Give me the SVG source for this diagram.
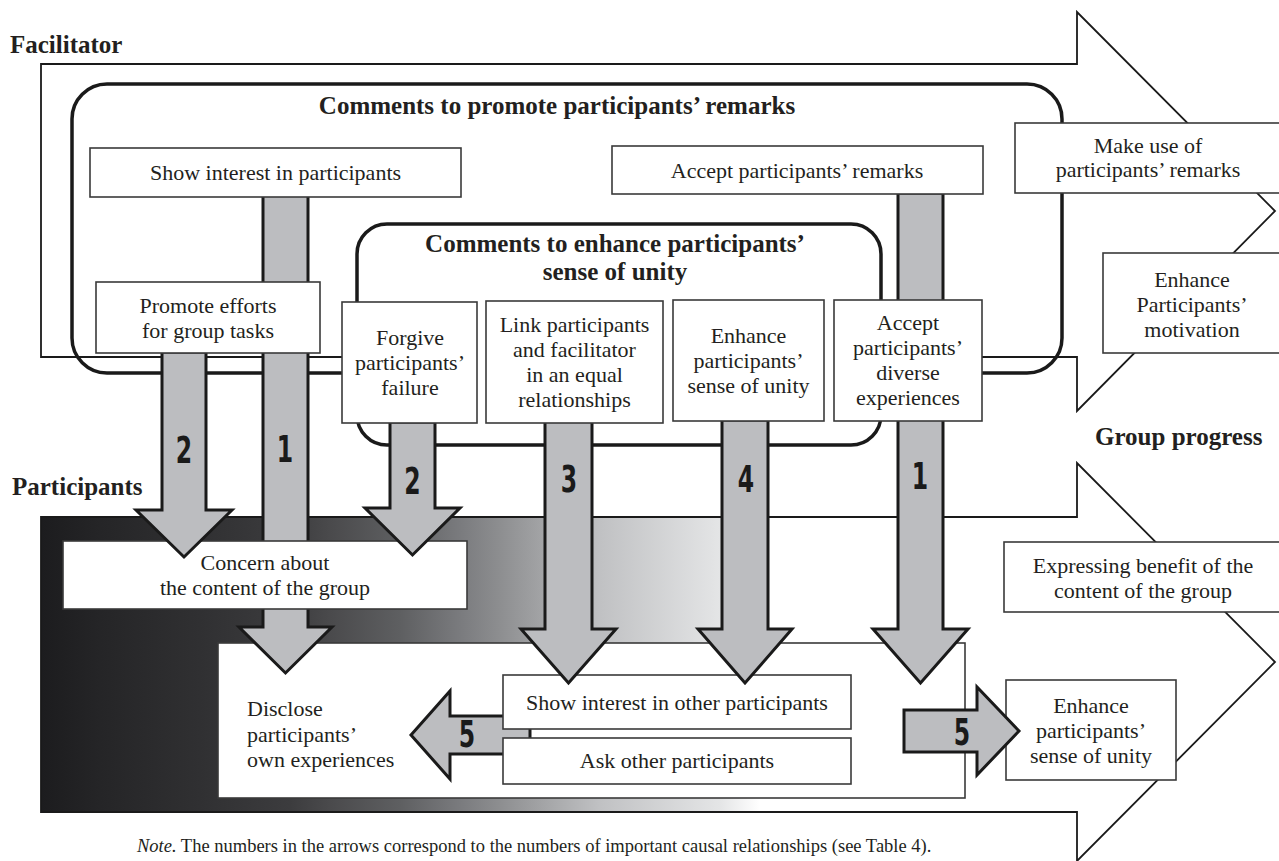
<svg xmlns="http://www.w3.org/2000/svg" width="1279" height="861" viewBox="0 0 1279 861">
<defs>
<linearGradient id="grad" gradientUnits="userSpaceOnUse" x1="41" y1="0" x2="760" y2="0">
<stop offset="0" stop-color="#1c1c1e"/>
<stop offset="0.082" stop-color="#252527"/>
<stop offset="0.221" stop-color="#303032"/>
<stop offset="0.346" stop-color="#3c3c3e"/>
<stop offset="0.402" stop-color="#4a4a4c"/>
<stop offset="0.499" stop-color="#5e5f61"/>
<stop offset="0.583" stop-color="#7a7b7e"/>
<stop offset="0.638" stop-color="#8d8e90"/>
<stop offset="0.777" stop-color="#c0c1c3"/>
<stop offset="0.944" stop-color="#e4e5e6"/>
<stop offset="1" stop-color="#ffffff"/>
</linearGradient>
<style>
.big{fill:#fff;stroke:#1a1a1a;stroke-width:1.8;stroke-linejoin:miter}
.grp{fill:none;stroke:#1a1a1a;stroke-width:3.5}
.box{fill:#fff;stroke:#3a3a3a;stroke-width:1.6}
.arr{fill:#bcbdc0;stroke:#1a1a1a;stroke-width:3;stroke-linejoin:miter}
.t{font-family:"Liberation Serif","Times New Roman",serif;font-size:22px;fill:#231f20;text-anchor:middle}
.tl{font-family:"Liberation Serif","Times New Roman",serif;font-size:22px;fill:#231f20}
.h{font-family:"Liberation Serif","Times New Roman",serif;font-size:25px;font-weight:bold;fill:#231f20}
.hc{font-family:"Liberation Serif","Times New Roman",serif;font-size:25px;font-weight:bold;fill:#231f20;text-anchor:middle}
.num{font-family:"DejaVu Sans","Liberation Sans",sans-serif;font-size:38px;font-weight:bold;fill:#1a1a1a;text-anchor:middle}
.note{font-family:"Liberation Serif","Times New Roman",serif;font-size:18.5px;fill:#231f20}
</style>
</defs>

<g id="facilitator-arrow">
<polygon class="big" points="41,64 1077,64 1077,12 1275,211 1077,411 1077,357 41,357"/>
</g>
<g id="group-progress-arrow">
<polygon class="big" style="fill:url(#grad)" points="41,517 1077,517 1077,463 1275,662 1077,861 1077,812 41,812"/>
</g>

<g id="comments-promote">
<rect class="grp" x="72" y="84" width="990" height="289" rx="35" ry="35"/>
<text class="hc" x="557" y="114">Comments to promote participants’ remarks</text>
</g>
<g id="comments-unity">
<rect class="grp" style="fill:#fff" x="357" y="224" width="524" height="221" rx="30" ry="30"/>
<text class="hc" x="615" y="252">Comments to enhance participants’<tspan x="615" dy="28">sense of unity</tspan></text>
</g>

<g id="disclose">
<rect class="box" x="218" y="643" width="747" height="155"/>
<text class="tl" x="247" y="716">Disclose</text>
<text class="tl" x="247" y="742">participants’</text>
<text class="tl" x="247" y="767">own experiences</text>
</g>

<g id="connectors-back">
<polygon class="arr" points="530,716 450,716 450,691 411,735 450,779 450,754 530,754"/>
</g>

<g id="show-interest-other">
<rect class="box" x="503" y="675" width="348" height="54"/>
<text class="t" x="677" y="710">Show interest in other participants</text>
</g>
<g id="ask-other">
<rect class="box" x="503" y="738" width="348" height="46"/>
<text class="t" x="677" y="768">Ask other participants</text>
</g>

<g id="connectors-mid">
<polygon class="arr" points="263,195 308,195 308,627 332,627 285.5,673 239,627 263,627"/>
</g>

<g id="concern">
<rect class="box" x="63" y="541" width="404" height="68"/>
<text class="t" x="265" y="570">Concern about</text>
<text class="t" x="265" y="595">the content of the group</text>
</g>

<g id="connectors">
<polygon class="arr" points="162,352 206,352 206,510 232,510 184,557 136,510 162,510"/>
<polygon class="arr" points="390,422 435,422 435,508 460,508 412.5,555 365,508 390,508"/>
<polygon class="arr" points="545,421 592,421 592,629 616,629 568.5,683 521,629 545,629"/>
<polygon class="arr" points="722,420 768,420 768,629 792,629 745,683 698,629 722,629"/>
<polygon class="arr" points="898,193 943,193 943,629 968,629 920.5,683 873,629 898,629"/>
</g>

<g id="show-interest">
<rect class="box" x="90" y="148" width="371" height="49"/>
<text class="t" x="275.5" y="180">Show interest in participants</text>
</g>
<g id="accept-remarks">
<rect class="box" x="612" y="146" width="371" height="48"/>
<text class="t" x="797" y="178">Accept participants’ remarks</text>
</g>
<g id="promote-efforts">
<rect class="box" x="96" y="282" width="224" height="71"/>
<text class="t" x="208" y="313">Promote efforts</text>
<text class="t" x="208" y="338">for group tasks</text>
</g>
<g id="forgive">
<rect class="box" x="342" y="302" width="135" height="121"/>
<text class="t" x="410" y="345">Forgive</text>
<text class="t" x="410" y="370">participants’</text>
<text class="t" x="410" y="395">failure</text>
</g>
<g id="link">
<rect class="box" x="486" y="301" width="177" height="122"/>
<text class="t" x="574.5" y="332">Link participants</text>
<text class="t" x="574.5" y="357">and facilitator</text>
<text class="t" x="574.5" y="382">in an equal</text>
<text class="t" x="574.5" y="407">relationships</text>
</g>
<g id="enhance-unity-comment">
<rect class="box" x="673" y="300" width="151" height="121"/>
<text class="t" x="748.5" y="343">Enhance</text>
<text class="t" x="748.5" y="368">participants’</text>
<text class="t" x="748.5" y="393">sense of unity</text>
</g>
<g id="accept-diverse">
<rect class="box" x="834" y="300" width="148" height="121"/>
<text class="t" x="908" y="330">Accept</text>
<text class="t" x="908" y="355">participants’</text>
<text class="t" x="908" y="380">diverse</text>
<text class="t" x="908" y="405">experiences</text>
</g>
<g id="make-use">
<rect class="box" x="1015" y="123" width="270" height="70"/>
<text class="t" x="1148" y="153">Make use of</text>
<text class="t" x="1148" y="177">participants’ remarks</text>
</g>
<g id="enhance-motivation">
<rect class="box" x="1103" y="253" width="182" height="100"/>
<text class="t" x="1192" y="287">Enhance</text>
<text class="t" x="1192" y="312">Participants’</text>
<text class="t" x="1192" y="337">motivation</text>
</g>
<g id="expressing-benefit">
<rect class="box" x="1004" y="542" width="281" height="70"/>
<text class="t" x="1143" y="573">Expressing benefit of the</text>
<text class="t" x="1143" y="598">content of the group</text>
</g>
<g id="enhance-unity-result">
<rect class="box" x="1006" y="680" width="170" height="100"/>
<text class="t" x="1091" y="713">Enhance</text>
<text class="t" x="1091" y="738">participants’</text>
<text class="t" x="1091" y="763">sense of unity</text>
</g>

<g id="connectors-front">
<polygon class="arr" points="904,710 977,710 977,687 1019,731 977,775 977,752 904,752"/>
</g>

<g id="arrow-numbers">
<text class="num" transform="translate(184,463) scale(0.62,1)">2</text>
<text class="num" transform="translate(285,462) scale(0.62,1)">1</text>
<text class="num" transform="translate(412.5,494) scale(0.62,1)">2</text>
<text class="num" transform="translate(569,492) scale(0.62,1)">3</text>
<text class="num" transform="translate(746,492) scale(0.62,1)">4</text>
<text class="num" transform="translate(920,489) scale(0.62,1)">1</text>
<text class="num" transform="translate(467,747) scale(0.62,1)">5</text>
<text class="num" transform="translate(962,745) scale(0.62,1)">5</text>
</g>

<g id="labels">
<text class="h" x="10" y="53">Facilitator</text>
<text class="h" x="12" y="495">Participants</text>
<text class="h" x="1095" y="445">Group progress</text>
<text class="note" x="137" y="852"><tspan font-style="italic">Note.</tspan> The numbers in the arrows correspond to the numbers of important causal relationships (see Table 4).</text>
</g>
</svg>
